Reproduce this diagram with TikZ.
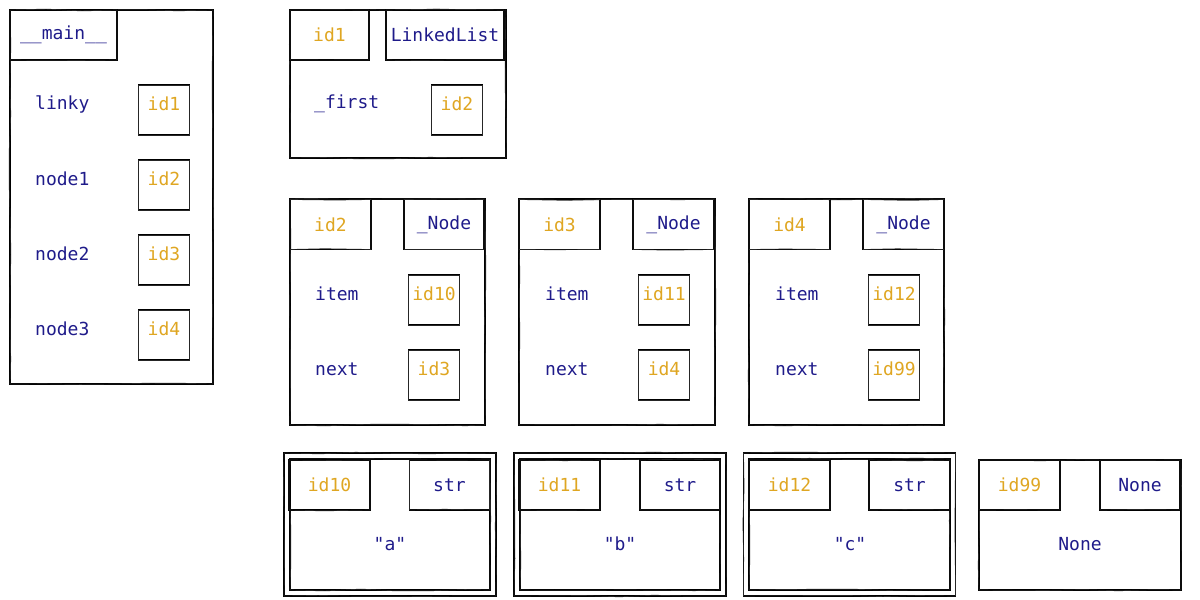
\documentclass[tikz,border=0pt]{standalone}
\usepackage{fontspec}
\setmonofont{DejaVu Sans Mono}
\usetikzlibrary{decorations.pathmorphing}
\definecolor{navy}{HTML}{1F1B8A}
\definecolor{idorange}{HTML}{DFA622}
\begin{document}
\begin{tikzpicture}[x=1pt,y=-1pt,
  every node/.style={font=\ttfamily\fontsize{18}{20}\selectfont},
  sk/.style={draw=black, line width=1.2pt, rectangle, inner sep=0pt,
    postaction={draw=black!85, line width=0.7pt, decorate,
      decoration={random steps, segment length=35, amplitude=0.9}}},
  frame/.style={sk},
  hdr/.style={sk, minimum height=50},
  idbox/.style={sk, text=idorange, minimum width=51, minimum height=50, text depth=13pt},
  idhdr/.style={hdr, text=idorange},
  typehdr/.style={hdr, text=navy},
  lbl/.style={text=navy, anchor=west, inner sep=0pt},
  val/.style={text=navy, inner sep=0pt}]
\pgfmathsetseed{7}
\useasboundingbox (0,0) rectangle (1200,600);

% __main__ frame
\node[frame, minimum width=203, minimum height=374] (main) at (111.5,197) {};
\node[typehdr, minimum width=107] (mainh) at (63.5,35) {\_\_main\_\_};
\node[lbl] (l1) at (35,104) {linky};
\node[idbox] (m1) at (164,110) {id1};
\node[lbl] (l2) at (35,179) {node1};
\node[idbox] (m2) at (164,185) {id2};
\node[lbl] (l3) at (35,254) {node2};
\node[idbox] (m3) at (164,260) {id3};
\node[lbl] (l4) at (35,329) {node3};
\node[idbox] (m4) at (164,335) {id4};

% LinkedList frame
\node[frame, minimum width=216, minimum height=148] (ll) at (398,84) {};
\node[idhdr, minimum width=79] (llid) at (329.5,35) {id1};
\node[typehdr, minimum width=118] (llt) at (445,35) {LinkedList};
\node[lbl] (llf) at (314,104) {\_first};
\node[idbox] (llv) at (457,110) {id2};

% _Node frames
\node[frame, minimum width=195, minimum height=226] (na) at (387.5,312) {};
\node[idhdr, minimum width=81] (naid) at (330.5,224.5) {id2};
\node[typehdr, minimum width=80] (nat) at (444,224.5) {\_Node};
\node[lbl] (nai) at (315,294) {item};
\node[idbox] (naiv) at (434,300) {id10};
\node[lbl] (nan) at (315,369) {next};
\node[idbox] (nanv) at (434,375) {id3};

\node[frame, minimum width=196, minimum height=226] (nb) at (617,312) {};
\node[idhdr, minimum width=81] (nbid) at (559.5,224.5) {id3};
\node[typehdr, minimum width=81] (nbt) at (673.5,224.5) {\_Node};
\node[lbl] (nbi) at (545,294) {item};
\node[idbox] (nbiv) at (664,300) {id11};
\node[lbl] (nbn) at (545,369) {next};
\node[idbox] (nbnv) at (664,375) {id4};

\node[frame, minimum width=195, minimum height=226] (nc) at (846.5,312) {};
\node[idhdr, minimum width=81] (ncid) at (789.5,224.5) {id4};
\node[typehdr, minimum width=81] (nct) at (903.5,224.5) {\_Node};
\node[lbl] (nci) at (775,294) {item};
\node[idbox] (nciv) at (894,300) {id12};
\node[lbl] (ncn) at (775,369) {next};
\node[idbox] (ncnv) at (894,375) {id99};

% str objects
\node[frame, minimum width=212, minimum height=143] (sao) at (390,524.5) {};
\node[frame, minimum width=200, minimum height=131] (sa) at (390,524.5) {};
\node[idhdr, minimum width=81] (said) at (329.5,485) {id10};
\node[typehdr, minimum width=80] (sat) at (449.5,485) {str};
\node[val] (sav) at (390,544) {"a"};

\node[frame, minimum width=212, minimum height=143] (sbo) at (620,524.5) {};
\node[frame, minimum width=200, minimum height=131] (sb) at (620,524.5) {};
\node[idhdr, minimum width=81] (sbid) at (559.5,485) {id11};
\node[typehdr, minimum width=80] (sbt) at (680,485) {str};
\node[val] (sbv) at (620,544) {"b"};

\node[frame, minimum width=212, minimum height=143] (sco) at (849.5,524.5) {};
\node[frame, minimum width=201, minimum height=131] (sc) at (849.5,524.5) {};
\node[idhdr, minimum width=81] (scid) at (789.5,485) {id12};
\node[typehdr, minimum width=81] (sct) at (909.5,485) {str};
\node[val] (scv) at (850,544) {"c"};

% None object
\node[frame, minimum width=202, minimum height=130] (nn) at (1080,525) {};
\node[idhdr, minimum width=81] (nnid) at (1019.5,485) {id99};
\node[typehdr, minimum width=80] (nnt) at (1140,485) {None};
\node[val] (nnv) at (1080,544) {None};
\end{tikzpicture}
\end{document}
